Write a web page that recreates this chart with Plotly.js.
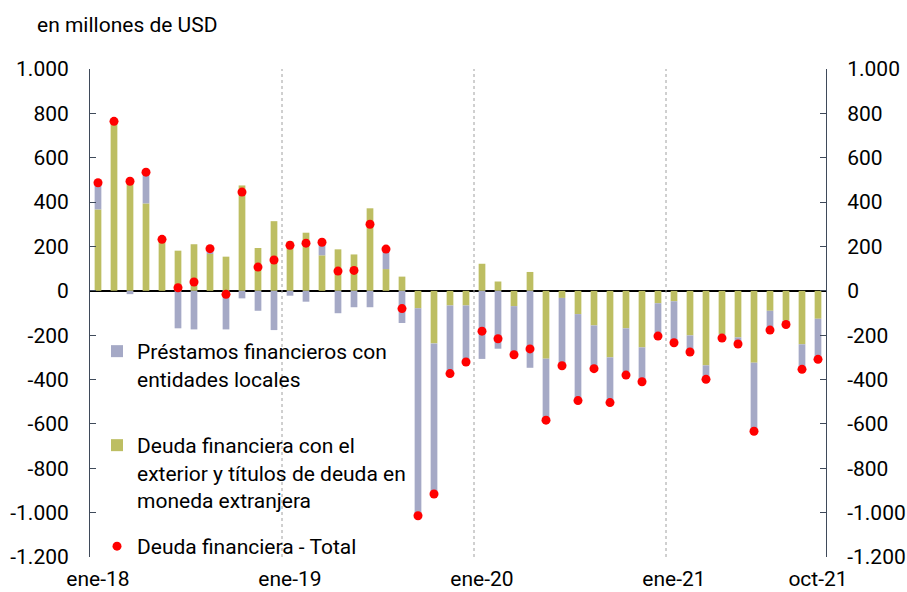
<!DOCTYPE html>
<html>
<head>
<meta charset="utf-8">
<script src="https://cdn.plot.ly/plotly-3.0.1.min.js"></script>
<style>html,body{margin:0;padding:0;background:#fff}#chart{width:907px;height:592px}</style>
</head>
<body>
<div id="chart"></div>
<script>
const months = ["ene-18","feb-18","mar-18","abr-18","may-18","jun-18","jul-18","ago-18","sep-18","oct-18","nov-18","dic-18",
"ene-19","feb-19","mar-19","abr-19","may-19","jun-19","jul-19","ago-19","sep-19","oct-19","nov-19","dic-19",
"ene-20","feb-20","mar-20","abr-20","may-20","jun-20","jul-20","ago-20","sep-20","oct-20","nov-20","dic-20",
"ene-21","feb-21","mar-21","abr-21","may-21","jun-21","jul-21","ago-21","sep-21","oct-21"];

const deudaExterior = [367,760,490,394,229,181,210,166,154,475,193,314,
223,262,160,187,164,372,98,64,-79,-237,-66,-66,
122,42,-69,85,-306,-32,-105,-156,-300,-169,-255,-56,
-47,-201,-336,-195,-210,-324,-90,-135,-241,-126];

const prestamosLocales = [118,0,-15,132,0,-169,-174,22,-174,-34,-90,-177,
-22,-49,55,-101,-74,-74,90,-145,-933,-677,-305,-254,
-307,-261,-220,-347,-276,-307,-390,-195,-204,-211,-155,-148,
-187,-75,-63,-18,-30,-309,-87,-15,-113,-183];

const total = [487,764,494,535,232,14,40,190,-16,445,107,139,
205,215,219,89,92,300,188,-80,-1014,-916,-373,-321,
-182,-216,-288,-262,-583,-338,-495,-351,-504,-380,-410,-204,
-234,-276,-399,-213,-240,-633,-177,-152,-354,-309];

const xTickVals = ["ene-18","ene-19","ene-20","ene-21","oct-21"];
const yTickVals = [1000,800,600,400,200,0,-200,-400,-600,-800,-1000,-1200];
const yTickText = ["1.000","800","600","400","200","0","-200","-400","-600","-800","-1.000","-1.200"];

const OLIVE = "#BDBE62";
const LAV = "#A5A9C6";
const FONT = "Roboto, 'Liberation Sans', Arial, sans-serif";
const FS = 21;

const traces = [
  {type:"bar", x:months, y:deudaExterior, name:"Deuda financiera con el<br>exterior y títulos de deuda en<br>moneda extranjera",
   marker:{color:OLIVE}, width:0.42, legend:"legend2"},
  {type:"bar", x:months, y:prestamosLocales, name:"Préstamos financieros con<br>entidades locales",
   marker:{color:LAV}, width:0.42, legend:"legend"},
  {type:"scatter", mode:"markers", x:months, y:total, name:"Deuda financiera - Total",
   marker:{color:"#FF0000", size:9}, legend:"legend3"},
  {type:"scatter", mode:"markers", x:months, y:total, yaxis:"y2", showlegend:false,
   marker:{opacity:0}, hoverinfo:"skip"}
];

const yCommon = {
  range:[-1200,1000], tickvals:yTickVals, ticktext:yTickText,
  showgrid:false, showline:true, linecolor:"#3F4A5A", linewidth:1,
  ticks:"inside", ticklen:6, tickcolor:"#3F4A5A",
  tickfont:{family:FONT, size:FS, color:"#000"}, ticklabelstandoff:16, fixedrange:true
};

const legendCommon = {
  bgcolor:"rgba(0,0,0,0)", font:{family:FONT, size:FS, color:"#000"},
  xanchor:"left", yanchor:"top", valign:"top", itemwidth:30
};

const layout = {
  width:907, height:592,
  margin:{l:90, r:81, t:69, b:35},
  paper_bgcolor:"#fff", plot_bgcolor:"#fff",
  barmode:"relative",
  separators:",.",
  font:{family:FONT, size:FS, color:"#000"},
  title:{text:"en millones de USD", x:37/907, xanchor:"left", xref:"container",
         y:1-25/592, yanchor:"middle", yref:"container", font:{family:FONT, size:FS, color:"#000"}},
  xaxis:{type:"category", tickvals:xTickVals, ticktext:xTickVals, showgrid:false, showline:false,
         ticks:"", tickfont:{family:FONT, size:FS, color:"#000"}, ticklabelstandoff:7,
         range:[-0.5,45.5], fixedrange:true},
  yaxis:Object.assign({}, yCommon, {side:"left", zeroline:true, zerolinecolor:"#000", zerolinewidth:1.5}),
  yaxis2:Object.assign({}, yCommon, {side:"right", overlaying:"y", zeroline:false}),
  showlegend:true,
  legend:Object.assign({}, legendCommon, {x:(97-90)/736, y:(557-331)/488}),
  legend2:Object.assign({}, legendCommon, {x:(97-90)/736, y:(557-425)/488}),
  legend3:Object.assign({}, legendCommon, {x:(97-90)/736, y:(557-526)/488}),
  shapes:[11.5,23.5,35.5].map(v=>({type:"line", xref:"x", yref:"paper", x0:v, x1:v, y0:0, y1:1,
     line:{color:"#A0A0A0", width:1, dash:"3px,3px"}, layer:"above"}))
};

Plotly.newPlot("chart", traces, layout, {displayModeBar:false, staticPlot:true});
</script>
</body>
</html>
